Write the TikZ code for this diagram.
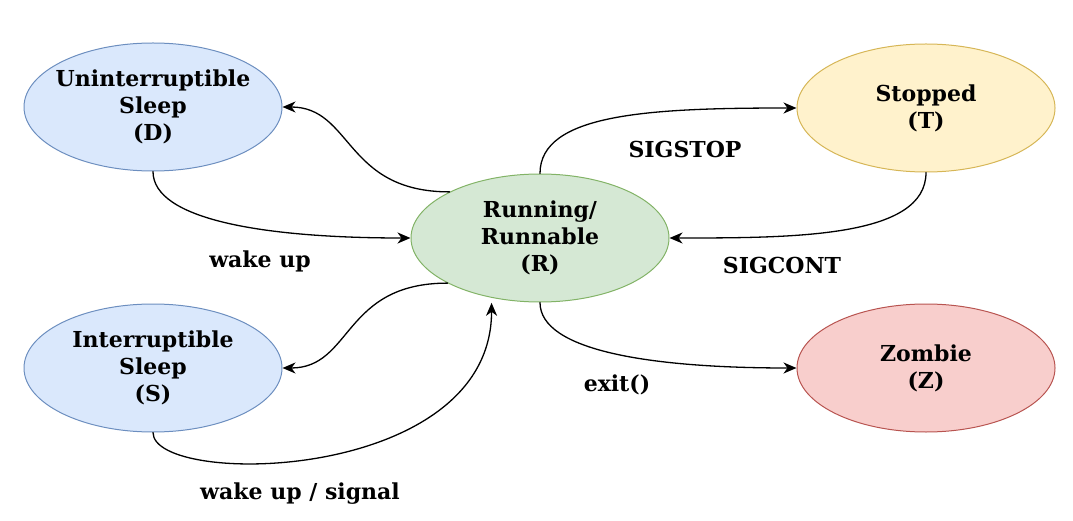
\documentclass[tikz,border=0pt]{standalone}
\usepackage{fontspec}
\setmainfont{DejaVu Serif}
\usetikzlibrary{shapes.geometric,arrows.meta}
\definecolor{blueFill}{HTML}{DAE8FC}
\definecolor{blueLine}{HTML}{6C8EBF}
\definecolor{greenFill}{HTML}{D5E8D4}
\definecolor{greenLine}{HTML}{82B366}
\definecolor{yellowFill}{HTML}{FFF2CC}
\definecolor{yellowLine}{HTML}{D6B656}
\definecolor{redFill}{HTML}{F8CECC}
\definecolor{redLine}{HTML}{B85450}
\tikzset{
  state/.style={ellipse,draw,line width=1pt,minimum width=258pt,minimum height=128pt,inner xsep=-40pt,inner ysep=0pt,align=center,font=\fontsize{22}{27}\selectfont\bfseries},
  lbl/.style={font=\fontsize{22}{27}\selectfont\bfseries,inner sep=0pt},
  edge/.style={->,line width=1.3pt}
}
\begin{document}
\begin{tikzpicture}[line cap=round,line join=round,>={Stealth[length=13pt,width=11pt,inset=4pt]},x=1pt,y=-1pt]
  \useasboundingbox (0,0) rectangle (1073,521);
  % states
  \node[state,fill=blueFill,draw=blueLine] (D) at (153,107) {Uninterruptible\\Sleep\\(D)};
  \node[state,fill=greenFill,draw=greenLine] (R) at (540,238) {Running/\\Runnable\\(R)};
  \node[state,fill=yellowFill,draw=yellowLine] (T) at (926,108) {Stopped\\(T)};
  \node[state,fill=blueFill,draw=blueLine] (S) at (153,368) {Interruptible\\Sleep\\(S)};
  \node[state,fill=redFill,draw=redLine] (Z) at (926,368) {Zombie\\(Z)};
  % labels
  \node[lbl] (wakeup) at (260,261) {wake up};
  \node[lbl] (sigstop) at (685,149) {SIGSTOP};
  \node[lbl] (sigcont) at (782,265) {SIGCONT};
  \node[lbl] (exit) at (617,385) {exit()};
  \node[lbl] (signal) at (300,494) {wake up / signal};
  % transitions
  \draw[edge] (R.153) .. controls +(-105,0) and +(70,0) .. (D.east);
  \draw[edge] (D.south) .. controls +(0,48) and +(-147,0) .. (R.west);
  \draw[edge] (R.north) .. controls +(0,-60) and +(-147,0) .. (T.west);
  \draw[edge] (T.south) .. controls +(0,65) and +(126,0) .. (R.east);
  \draw[edge] (R.206) .. controls +(-105,0) and +(70,0) .. (S.east);
  \draw[edge,shorten >=5pt] (S.south) .. controls +(0,55) and +(0,186) .. (R.231);
  \draw[edge] (R.south) .. controls +(0,48) and +(-147,0) .. (Z.west);
\end{tikzpicture}
\end{document}
